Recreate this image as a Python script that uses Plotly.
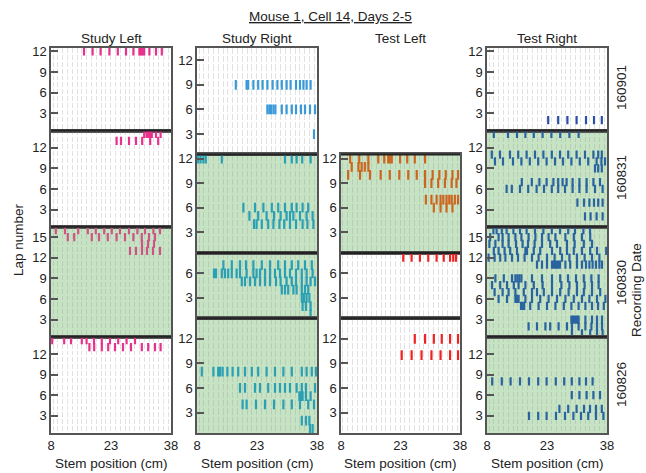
import plotly.graph_objects as go

W, H = 646, 473
FONT = "Liberation Sans, Arial, sans-serif"

columns = ["Study Left", "Study Right", "Test Left", "Test Right"]
dates = ["160901", "160831", "160830", "160826"]
x_ticks = [8, 23, 38]

laps_study_left = [12, 14, 16, 14]
laps_study_right = [13, 12, 8, 14]
laps_test_left = [13, 12, 8, 14]
laps_test_right = [12, 14, 16, 14]

green_study_left = [False, False, True, False]
green_study_right = [False, True, True, True]
green_test_left = [False, True, False, False]
green_test_right = [False, True, True, True]

colors_study_left = ["#e8308c", "#e8308c", "#cc5586", "#e8308c"]
colors_study_right = ["#3a9ad9", "#2aa0b4", "#2aa0b4", "#2aa0b4"]
colors_test_left = ["#d2691e", "#cc661e", "#ee2222", "#ee2222"]
colors_test_right = ["#2a4fa8", "#2a64a0", "#2a64a0", "#2a64a0"]

# spike positions (cm) per lap
study_left_160901 = {12: [16.25, 18.4, 20.4, 22.6, 24.7, 26.75, 28.6, 30.1, 30.5, 30.9, 31.3, 32.6, 34.25, 35.7]}
study_left_160831 = {14: [31.3, 31.9, 32.3, 32.75, 33.2, 34.25, 35.4],
                     13: [24.4, 25.5, 27.5, 29.25, 30.8, 32.8, 34.8]}
study_left_160830 = {16: [9.2, 11.5, 14.8, 17.2, 19.2, 21.3, 23.2, 25.25, 27.5, 29.6, 31.5, 33.6, 35.25],
                     15: [12.2, 13.8, 18.2, 20.0, 22.2, 24.4, 26.5, 28.6, 30.7, 32.5, 34.0],
                     14: [30.75, 32.25, 33.75],
                     13: [27.75, 29.25, 30.75, 32.0, 33.5, 35.25]}
study_left_160826 = {14: [8.3, 11.3, 13.0, 15.7, 16.9, 18.75, 20.7, 22.75, 24.8, 26.9, 29.0],
                     13: [17.6, 18.8, 20.7, 22.3, 24.0, 26.0, 28.0, 30.7, 32.3, 34.0, 35.4]}

study_right_160901 = {9: [17.7, 20.4, 20.8, 22.1, 23.3, 24.4, 25.6, 26.9, 28.1, 29.2, 30.4, 31.4, 32.75, 33.75, 34.6, 35.4, 36.4],
                      6: [25.6, 26.1, 26.5, 27.1, 27.6, 29.2, 30.4, 31.7, 32.75, 34.0, 35.0, 36.25, 37.5],
                      3: [37.25]}
study_right_160831 = {12: [8.3, 8.9, 9.6, 10.2, 14.2, 30.0, 31.7, 32.9, 34.3, 36.4],
                      6: [19.6, 22.5, 24.6, 26.7, 28.3, 30.0, 31.7, 32.9, 34.4, 35.8],
                      5: [21.1, 23.3, 25.4, 27.25, 28.9, 30.4, 31.25, 32.1, 33.75, 35.4, 36.9],
                      4: [22.25, 22.9, 24.2, 25.8, 27.1, 28.6, 29.8, 31.25, 32.75, 34.4, 35.6, 37.1]}
study_right_160830 = {7: [14.6, 16.7, 18.75, 20.25, 22.1, 24.2, 26.25, 28.3, 30.0, 31.7, 33.3, 35.0, 36.7],
                      6: [12.25, 12.75, 14.2, 15.0, 15.8, 16.7, 17.9, 18.75, 20.4, 22.1, 22.9, 23.75, 25.0, 26.25,
                          27.5, 28.75, 30.0, 31.25, 32.75, 34.2, 35.4, 36.9],
                      5: [19.2, 20.0, 21.25, 22.5, 23.75, 25.0, 26.25, 27.75, 28.9, 30.4, 31.7, 32.75, 34.2, 35.4, 36.4, 37.5],
                      4: [29.2, 30.0, 30.8, 32.1, 32.9, 34.2, 35.0, 35.8],
                      3: [34.2, 34.75, 35.4, 36.1],
                      2: [34.4, 35.25, 36.4],
                      1: [36.4]}
study_right_160826 = {8: [9.2, 12.1, 13.3, 13.75, 14.4, 15.6, 16.9, 18.3, 20.0, 21.7, 23.3, 25.4, 27.5, 29.6, 31.7,
                          34.2, 35.4, 36.7, 37.75],
                      6: [18.75, 20.0, 22.5, 23.75, 25.8, 27.5, 28.75, 30.0, 31.25, 32.9, 34.2, 35.25, 37.5],
                      5: [33.6, 34.0, 34.4, 35.25, 36.4],
                      4: [19.4, 20.4, 22.75, 25.0, 27.25, 29.6, 31.7, 33.75, 35.8, 37.25],
                      2: [34.2, 35.25, 36.1],
                      1: [36.25, 36.9]}

test_left_160901 = {}
test_left_160831 = {12: [10.3, 12.6, 14.9, 17.4, 18.9, 19.9, 20.3, 20.8, 22.9, 24.7, 26.6, 29.2],
                    11: [10.7, 12.4, 13.2, 14.0, 14.9],
                    10: [9.8, 12.8, 15.3, 18.0, 20.3, 22.7, 24.95, 27.1, 29.2, 31.1, 32.8, 34.4, 36.1, 37.5],
                    9: [29.2, 30.8, 32.5, 34.2, 35.9, 37.1],
                    7: [29.4, 30.8, 32.1, 33.1, 33.8, 34.6, 35.3, 35.9, 36.7, 37.5],
                    6: [31.4, 33.1, 34.6, 36.1]}
test_left_160830 = {8: [23.7, 25.8, 27.9, 30.0, 32.1, 33.9, 35.5, 36.3, 37.0]}
test_left_160826 = {12: [26.6, 29.2, 31.4, 33.4, 35.5, 37.5],
                    10: [23.3, 25.8, 28.3, 30.8, 33.1, 35.5, 37.5]}

test_right_160901 = {2: [23.3, 25.8, 28.1, 30.4, 32.75, 34.75, 36.7]}
test_right_160831 = {14: [9.7, 13.25, 15.5, 17.6, 19.7, 21.9, 24.1, 26.3, 28.6, 30.9],
                     11: [9.2, 11.25, 13.75, 15.8, 17.9, 20.0, 22.1, 24.2, 26.25, 28.3, 30.4, 32.5, 34.6, 35.8, 36.7],
                     10: [10.0, 12.0, 14.5, 16.6, 18.7, 20.8, 22.9, 25.0, 27.0, 29.1, 31.2, 33.3, 35.4, 36.6, 37.5],
                     9: [35.0, 35.8, 36.7],
                     7: [16.7, 19.2, 21.1, 22.9, 24.6, 25.8, 26.9, 27.9, 29.4, 31.1, 32.9, 34.6, 36.25],
                     6: [12.9, 14.2, 16.25, 18.3, 20.4, 22.25, 24.2, 25.8, 27.5, 29.4, 31.1, 32.9, 35.0, 36.9],
                     4: [30.6, 32.25, 33.6, 34.75, 35.8, 36.9],
                     2: [32.5, 33.9, 35.4, 36.9]}
test_right_160830 = {16: [9.6, 10.4, 11.7, 12.9, 14.6, 16.25, 17.9, 20.0, 22.1, 24.2, 26.25, 28.3, 30.0, 32.1, 33.75],
                     15: [8.8, 10.9, 11.9, 13.4, 15.1, 16.6, 18.4, 20.1, 21.75, 23.4, 25.1, 27.6, 29.7, 31.75, 33.8],
                     14: [8.6, 10.1, 11.9, 13.4, 15.25, 16.9, 18.25, 19.9, 21.75, 23.8, 25.5, 28.0, 29.9, 32.2, 34.25],
                     13: [9.7, 10.9, 12.4, 13.8, 15.5, 17.6, 18.0, 19.7, 21.3, 24.25, 26.3, 28.0, 29.7, 31.75, 33.8, 35.5, 37.8],
                     12: [8.4, 9.9, 11.3, 12.6, 14.25, 15.75, 17.4, 19.25, 20.9, 23.0, 24.9, 26.75, 28.6, 30.5, 32.4, 34.25, 36.1],
                     11: [20.5, 21.75, 23.0, 24.25, 24.75, 25.25, 25.75, 26.25, 27.6, 28.8, 30.5, 31.75, 32.75, 33.6,
                          34.4, 35.25, 36.1, 36.75],
                     9: [10.1, 12.2, 14.25, 15.1, 15.6, 16.1, 16.6, 19.25, 21.75, 24.25, 26.3, 28.25, 30.25, 32.2, 34.1, 35.9],
                     8: [9.25, 11.3, 13.0, 14.7, 15.9, 17.6, 19.7, 21.9, 24.25, 26.6, 28.6, 30.5, 32.4, 34.25, 35.9],
                     7: [9.9, 11.9, 13.4, 15.1, 17.2, 19.25, 20.5, 22.2, 24.25, 26.3, 28.4, 30.5, 32.2, 34.25, 36.3],
                     6: [10.9, 13.0, 15.1, 15.5, 15.9, 17.6, 19.25, 21.3, 23.4, 25.5, 27.6, 29.7, 31.75, 33.6, 35.5, 37.6],
                     5: [16.5, 16.9, 17.3, 18.8, 20.9, 23.0, 25.1, 27.2, 29.1, 30.9, 32.6, 34.25, 35.75, 37.2],
                     3: [29.1, 29.5, 30.0, 30.5, 30.9, 32.6, 34.25, 35.5, 36.75],
                     2: [18.4, 20.5, 22.6, 23.8, 25.9, 28.0, 29.25, 30.9, 32.6, 34.1, 35.5, 36.75],
                     1: [29.25, 31.75, 33.8, 35.5, 36.9]}
test_right_160826 = {8: [9.3, 11.7, 13.9, 16.25, 18.5, 20.8, 22.9, 25.2, 27.3, 29.2, 31.1, 32.75, 34.4],
                     6: [29.2, 31.1, 32.9, 34.6, 36.25],
                     4: [26.1, 28.3, 30.4, 32.25, 33.75, 35.25, 36.7],
                     3: [18.5, 20.8, 22.9, 25.25, 27.5, 29.6, 31.5, 33.3, 35.25, 37.1]}

spikes = {
    "Study Left": [study_left_160901, study_left_160831, study_left_160830, study_left_160826],
    "Study Right": [study_right_160901, study_right_160831, study_right_160830, study_right_160826],
    "Test Left": [test_left_160901, test_left_160831, test_left_160830, test_left_160826],
    "Test Right": [test_right_160901, test_right_160831, test_right_160830, test_right_160826],
}
laps = {"Study Left": laps_study_left, "Study Right": laps_study_right,
        "Test Left": laps_test_left, "Test Right": laps_test_right}
greens = {"Study Left": green_study_left, "Study Right": green_study_right,
          "Test Left": green_test_left, "Test Right": green_test_right}
colors = {"Study Left": colors_study_left, "Study Right": colors_study_right,
          "Test Left": colors_test_left, "Test Right": colors_test_right}

# ---------------- layout geometry (pixels) ----------------
col_px = [(51, 171), (197, 317), (341, 460), (487, 607)]
TOP, BOT = 48, 433
GREEN = "#c6e3c4"

fig = go.Figure()
layout = dict(width=W, height=H, margin=dict(l=0, r=0, t=0, b=0, autoexpand=False),
              paper_bgcolor="white", plot_bgcolor="rgba(0,0,0,0)", showlegend=False,
              font=dict(family=FONT, size=13, color="#222"))
shapes = []
annotations = []


def label(text, xp, yp, angle=0, size=13.5):
    return dict(text=text, x=xp / W, y=1 - yp / H, xref="paper", yref="paper",
                xanchor="center", yanchor="middle", showarrow=False, textangle=angle,
                font=dict(size=size, color="#222"))


k = 0
for ci, col in enumerate(columns):
    x0p, x1p = col_px[ci]
    nl = laps[col]
    total = sum(nl)
    pxlap = (BOT - TOP) / total
    dash = f"{pxlap - 2.0:.2f}px,2px"
    ytop = TOP
    for d in range(4):
        k += 1
        h = nl[d] * pxlap
        ybot = ytop + h
        xa = "xaxis" if k == 1 else f"xaxis{k}"
        ya = "yaxis" if k == 1 else f"yaxis{k}"
        xr = "x" if k == 1 else f"x{k}"
        yr = "y" if k == 1 else f"y{k}"
        bottom = d == 3
        layout[xa] = dict(domain=[x0p / W, x1p / W], range=[8, 38], anchor=yr, automargin=False,
                          showgrid=False, zeroline=False,
                          showline=True, mirror=True, linecolor="#555", linewidth=1.5,
                          tickmode="array", tickvals=x_ticks, ticktext=[str(v) for v in x_ticks],
                          showticklabels=bottom, ticks="",
                          tickfont=dict(size=13, color="#222"),
                          minor=dict(tickmode="linear", tick0=8.5, dtick=1.2, showgrid=True,
                                     gridcolor="rgba(140,140,140,0.25)", gridwidth=1, griddash=dash))
        yt = [v for v in [3, 6, 9, 12, 15] if v <= nl[d]]
        layout[ya] = dict(domain=[1 - ybot / H, 1 - ytop / H], range=[0.5, nl[d] + 0.5], anchor=xr,
                          automargin=False, showgrid=False, zeroline=False,
                          showline=True, mirror=True, linecolor="#555", linewidth=1.5,
                          tickmode="array", tickvals=yt, ticks="inside", ticklen=7, tickwidth=1.5,
                          tickcolor="#555", tickfont=dict(size=13, color="#222"))
        if greens[col][d]:
            shapes.append(dict(type="rect", xref=f"{xr} domain", yref=f"{yr} domain",
                               x0=0, x1=1, y0=0, y1=1, fillcolor=GREEN, line=dict(width=0),
                               layer="below"))
        xs, ys = [], []
        for lap, vals in spikes[col][d].items():
            for v in vals:
                xs.append(v)
                ys.append(lap)
        if xs:
            fig.add_trace(go.Scatter(x=xs, y=ys, xaxis=xr, yaxis=yr, mode="markers",
                                     marker=dict(symbol="line-ns", size=pxlap * 0.85,
                                                 line=dict(width=2.2, color=colors[col][d])),
                                     hoverinfo="skip"))
        if d < 3:
            shapes.append(dict(type="line", xref="paper", yref="paper",
                               x0=x0p / W, x1=x1p / W, y0=1 - ybot / H, y1=1 - ybot / H,
                               line=dict(color="#222", width=2.2)))
        ytop = ybot
    annotations.append(label(col, (x0p + x1p) / 2, 38))
    annotations.append(label("Stem position (cm)", (x0p + x1p) / 2, 463))

annotations.append(label("<u>Mouse 1, Cell 14, Days 2-5</u>", 330, 17))
annotations.append(label("Lap number", 18, 240, angle=-90))
annotations.append(label("Recording Date", 636, 290, angle=-90))
date_y = [88, 178, 283, 385]
for dt, yy in zip(dates, date_y):
    annotations.append(label(dt, 621, yy, angle=-90))

layout["shapes"] = shapes
layout["annotations"] = annotations
fig.update_layout(**layout)
fig.write_html("out.html", config={"displayModeBar": False},
               post_script="document.body.style.margin='0';document.body.style.overflow='hidden';")
